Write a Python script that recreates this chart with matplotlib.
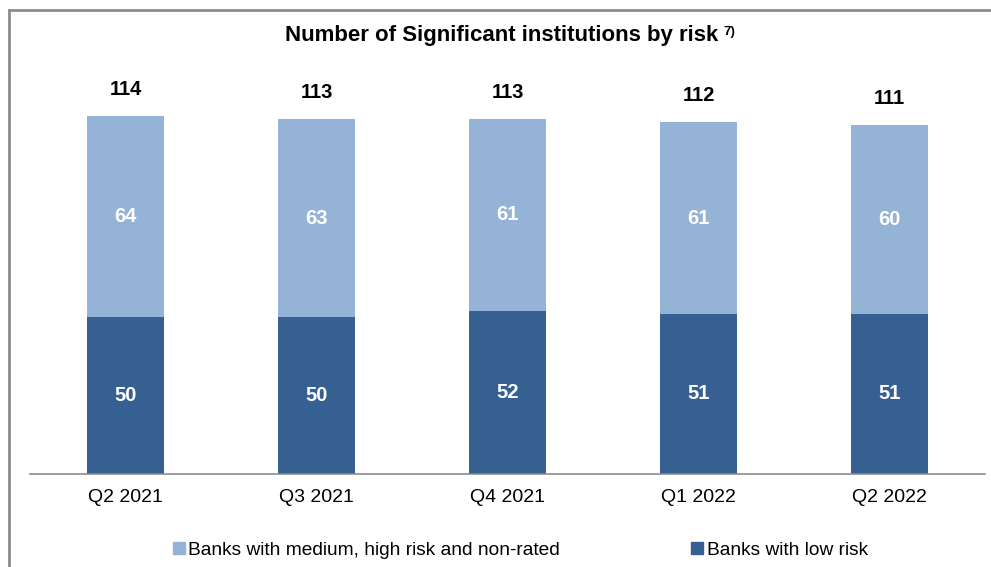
import numpy as np
import matplotlib
matplotlib.use("Agg")
from matplotlib import pyplot as plt
from matplotlib.lines import Line2D

quarters = ["Q2 2021", "Q3 2021", "Q4 2021", "Q1 2022", "Q2 2022"]
low_risk = [50, 50, 52, 51, 51]
medium_high = [64, 63, 61, 61, 60]
totals = [114, 113, 113, 112, 111]

label_medium = "Banks with medium, high risk and non-rated"
label_low = "Banks with low risk"

col_low = "#376092"
col_med = "#95B3D7"

plt.rcParams["font.family"] = ["Liberation Sans", "DejaVu Sans"]

W, H = 991, 567
fig = plt.figure(figsize=(W / 100, H / 100), dpi=100)

# axes in pixel coords: baseline at y=474, x from 30 to 985
ax_left, ax_right, ax_bottom, ax_top = 30, 985, 474, 60
ax = fig.add_axes([ax_left / W, 1 - ax_bottom / H, (ax_right - ax_left) / W, (ax_bottom - ax_top) / H])

x = np.arange(len(quarters))
width = 0.4
ax.bar(x, low_risk, width, color=col_low, label=label_low)
ax.bar(x, medium_high, width, bottom=low_risk, color=col_med, label=label_medium)

for i in range(len(x)):
    ax.text(x[i], low_risk[i] / 2, str(low_risk[i]), ha="center", va="center",
            color="white", fontsize=14.5, fontweight="bold")
    ax.text(x[i], low_risk[i] + medium_high[i] / 2, str(medium_high[i]), ha="center", va="center",
            color="white", fontsize=14.5, fontweight="bold")
    ax.text(x[i], totals[i] + 5.5, str(totals[i]), ha="center", va="bottom",
            color="black", fontsize=14.5, fontweight="bold")

ax.set_xlim(-0.5, len(x) - 0.5)
ax.set_ylim(0, (ax_bottom - ax_top) / 3.14)
ax.set_xticks(x)
ax.set_xticklabels(quarters, fontsize=14)
ax.tick_params(axis="x", length=0, pad=11)
ax.set_yticks([])
for s in ["top", "right", "left"]:
    ax.spines[s].set_visible(False)
ax.spines["bottom"].set_color("#8C8C8C")
ax.spines["bottom"].set_linewidth(1.2)

# title with footnote marker
fig.text(502 / W, 1 - 36 / H, "Number of Significant institutions by risk", ha="center", va="center",
         fontsize=16, fontweight="bold")
fig.text(723 / W, 1 - 32 / H, "7)", ha="left", va="center", fontsize=9.5, fontweight="bold")

# legend
handles = [Line2D([], [], marker="s", linestyle="none", markersize=8.5, color=col_med),
           Line2D([], [], marker="s", linestyle="none", markersize=8.5, color=col_low)]
fig.legend(handles, [label_medium, label_low], loc="center", bbox_to_anchor=(519 / W, 1 - 550 / H),
           ncol=2, frameon=False, fontsize=13.8, handletextpad=0.05, columnspacing=6.7, handlelength=0.9)

# outer frame (top and left)
fig.add_artist(Line2D([9 / W, 1], [1 - 10 / H, 1 - 10 / H], transform=fig.transFigure, color="#8C8C8C", lw=2))
fig.add_artist(Line2D([9 / W, 9 / W], [0, 1 - 10 / H], transform=fig.transFigure, color="#8C8C8C", lw=2))

fig.savefig("out.png", dpi=100)
